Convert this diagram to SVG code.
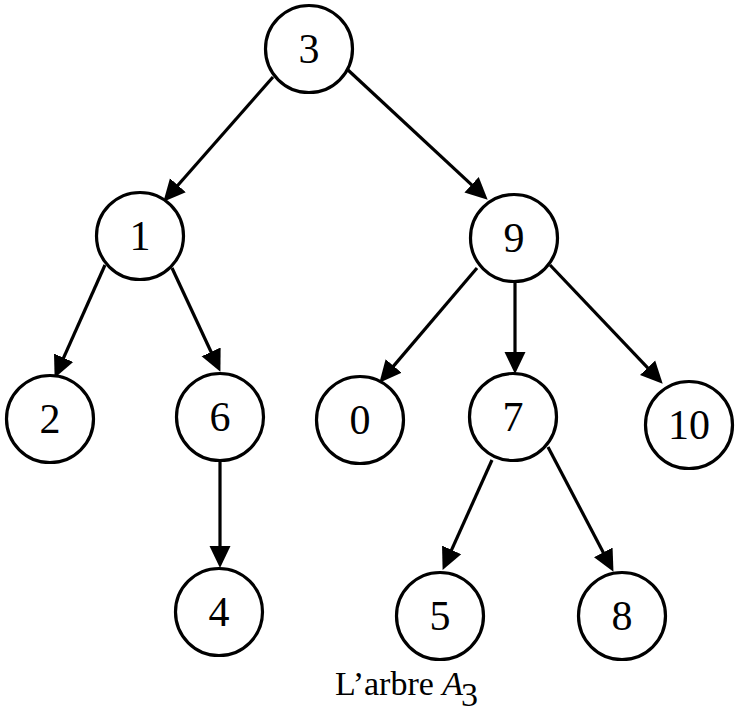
<svg xmlns="http://www.w3.org/2000/svg" width="740" height="715" viewBox="0 0 740 715">
<defs>
<style>
.node circle{fill:#fff;stroke:#000;stroke-width:3.2}
.node text{font-family:"Liberation Serif","Times New Roman",serif;font-size:42px;text-anchor:middle;fill:#000}
.edges line{stroke:#000;stroke-width:3.2;marker-end:url(#ah)}
.cap{font-family:"Liberation Serif","Times New Roman",serif;font-size:34px;fill:#000}
</style>
<marker id="ah" markerUnits="userSpaceOnUse" markerWidth="22" markerHeight="22" refX="13" refY="11" orient="auto">
<path d="M0,0.5 L22,11 L0,21.5 z" fill="#000"/>
</marker>
</defs>
<rect width="740" height="715" fill="#fff"/>
<g id="edges" class="edges">
<line x1="273" y1="77" x2="169.3" y2="195"/>
<line x1="348" y1="70" x2="481.1" y2="193.6"/>
<line x1="105" y1="265" x2="58.3" y2="369.7"/>
<line x1="172" y1="268" x2="216.6" y2="363.7"/>
<line x1="477" y1="268" x2="385.2" y2="375.9"/>
<line x1="515" y1="282" x2="515" y2="365"/>
<line x1="550" y1="265" x2="656.5" y2="377.2"/>
<line x1="220" y1="462" x2="220" y2="559"/>
<line x1="492" y1="460" x2="446.3" y2="561.7"/>
<line x1="548" y1="447" x2="609.3" y2="563.9"/>
</g>
<g id="n3" class="node"><circle cx="309" cy="49" r="43.5"/><text x="309" y="63">3</text></g>
<g id="n1" class="node"><circle cx="140" cy="236" r="43.5"/><text x="140" y="250">1</text></g>
<g id="n9" class="node"><circle cx="514" cy="238" r="43.5"/><text x="514" y="252">9</text></g>
<g id="n2" class="node"><circle cx="50" cy="419" r="43.5"/><text x="50" y="433">2</text></g>
<g id="n6" class="node"><circle cx="220" cy="417" r="43.5"/><text x="220" y="431">6</text></g>
<g id="n0" class="node"><circle cx="360" cy="420" r="43.5"/><text x="360" y="434">0</text></g>
<g id="n7" class="node"><circle cx="513" cy="417" r="43.5"/><text x="513" y="431">7</text></g>
<g id="n10" class="node"><circle cx="689" cy="425" r="43.5"/><text x="689" y="439">10</text></g>
<g id="n4" class="node"><circle cx="219" cy="612" r="43.5"/><text x="219" y="626">4</text></g>
<g id="n5" class="node"><circle cx="440" cy="616" r="43.5"/><text x="440" y="630">5</text></g>
<g id="n8" class="node"><circle cx="622" cy="616" r="43.5"/><text x="622" y="630">8</text></g>
<text class="cap" x="335" y="695">L’arbre <tspan font-style="italic">A</tspan><tspan dx="-2" dy="11">3</tspan></text>
</svg>
